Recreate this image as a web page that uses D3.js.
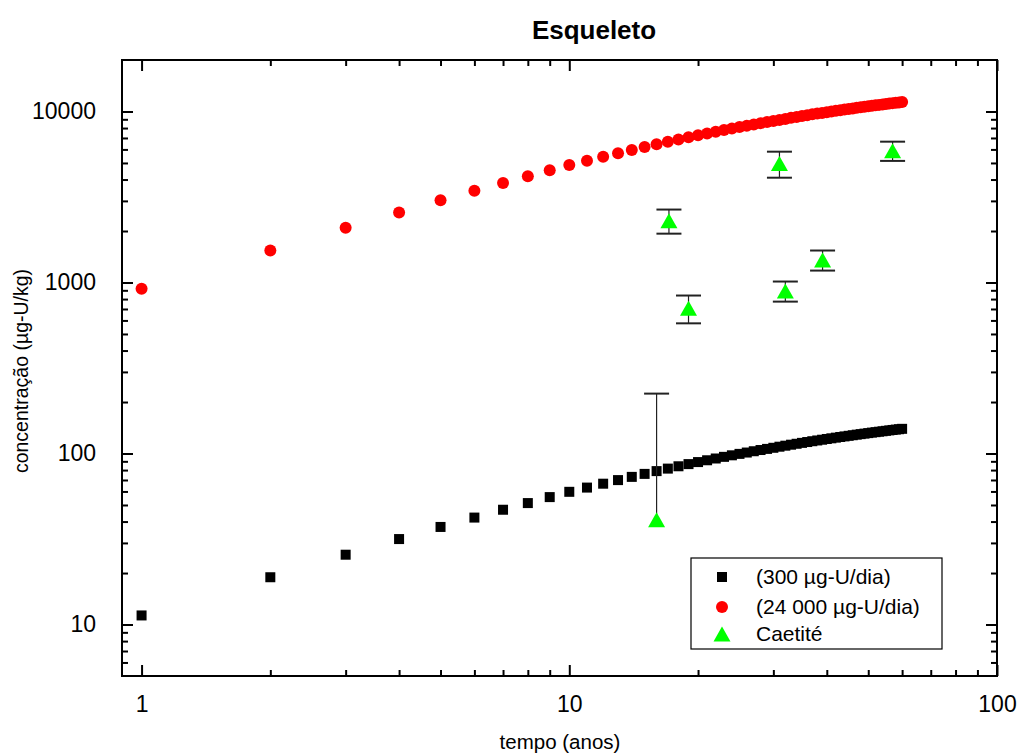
<!DOCTYPE html>
<html>
<head>
<meta charset="utf-8">
<script src="https://cdn.jsdelivr.net/npm/d3@7"></script>
<style>
  html, body { margin: 0; padding: 0; background: #fff; }
  svg { display: block; font-family: "Liberation Sans", Arial, sans-serif; }
</style>
</head>
<body>
<svg id="chart" width="1019" height="754"></svg>
<script>
// ---------------- data ----------------
const years = d3.range(1, 61);
const dose300 = [11.3, 18.9, 25.6, 31.6, 37.2, 42.2, 46.9, 51.3, 55.6, 59.7,
  63.2, 66.6, 69.9, 73.0, 76.0, 78.9, 81.6, 84.2, 86.7, 89.1,
  91.3, 93.5, 95.6, 97.6, 99.5, 101.3, 103.1, 104.8, 106.4, 108.0,
  109.6, 111.1, 112.6, 114.0, 115.4, 116.7, 118.0, 119.2, 120.4, 121.6,
  122.7, 123.8, 124.9, 125.9, 126.9, 127.9, 128.9, 129.8, 130.7, 131.6,
  132.5, 133.3, 134.1, 134.9, 135.7, 136.5, 137.3, 138.0, 138.7, 139.4];
const dose24000 = [920, 1540, 2090, 2570, 3030, 3440, 3820, 4180, 4530, 4870,
  5150, 5430, 5700, 5950, 6190, 6430, 6650, 6860, 7070, 7260,
  7440, 7620, 7790, 7950, 8110, 8260, 8400, 8540, 8670, 8800,
  8930, 9050, 9180, 9290, 9400, 9510, 9620, 9720, 9810, 9910,
  10000, 10090, 10180, 10260, 10340, 10420, 10500, 10580, 10650, 10720,
  10800, 10860, 10930, 10990, 11060, 11120, 11190, 11250, 11300, 11360];
const caetiteX = [16.0, 17.1, 19.0, 31.0, 32.0, 39.1, 57.0];
const caetiteY = [41, 2300, 708, 4960, 893, 1356, 5900];
const caetiteErr = [183, 370, 131, 860, 120, 182, 760];

const xMajor = [1, 10, 100];
const xMinor = [2,3,4,5,6,7,8,9,20,30,40,50,60,70,80,90];
const yMajor = [10, 100, 1000, 10000];
const yMinor = [6,7,8,9,20,30,40,50,60,70,80,90,200,300,400,500,600,700,800,900,2000,3000,4000,5000,6000,7000,8000,9000];
const legendLabels = ["(300 µg-U/dia)", "(24 000 µg-U/dia)", "Caetité"];

const titleText = "Esqueleto";
const xTitle = "tempo (anos)";
const yTitle = "concentração (µg-U/kg)";

// ---------------- layout ----------------
const L = 122, R = 997, T = 60, B = 676;
const svg = d3.select("#chart");
const x = d3.scaleLog().domain([0.9, 100]).range([L, R]);
const y = d3.scaleLog().domain([5, 20000]).range([B, T]);

const fontTick = 23;

function styleAxis(g) {
  g.select(".domain").remove();
  g.selectAll(".tick line").attr("stroke", "#000").attr("stroke-width", 2);
}

// bottom
svg.append("g").attr("transform", `translate(0,${B})`)
  .call(d3.axisBottom(x).tickValues(xMajor).tickSizeInner(-11).tickSizeOuter(0).tickPadding(20).tickFormat(d3.format("d")))
  .call(styleAxis)
  .call(g => g.selectAll("text").attr("font-size", fontTick).attr("fill", "#000").attr("font-family", "Liberation Sans, Arial, sans-serif"));
svg.append("g").attr("transform", `translate(0,${B})`)
  .call(d3.axisBottom(x).tickValues(xMinor).tickSizeInner(-6).tickSizeOuter(0).tickFormat(""))
  .call(styleAxis);
// top
svg.append("g").attr("transform", `translate(0,${T})`)
  .call(d3.axisTop(x).tickValues(xMajor).tickSizeInner(-11).tickSizeOuter(0).tickFormat(""))
  .call(styleAxis);
svg.append("g").attr("transform", `translate(0,${T})`)
  .call(d3.axisTop(x).tickValues(xMinor).tickSizeInner(-6).tickSizeOuter(0).tickFormat(""))
  .call(styleAxis);
// left
svg.append("g").attr("transform", `translate(${L},0)`)
  .call(d3.axisLeft(y).tickValues(yMajor).tickSizeInner(-11).tickSizeOuter(0).tickPadding(26).tickFormat(d3.format("d")))
  .call(styleAxis)
  .call(g => g.selectAll("text").attr("font-size", fontTick).attr("fill", "#000").attr("font-family", "Liberation Sans, Arial, sans-serif"));
svg.append("g").attr("transform", `translate(${L},0)`)
  .call(d3.axisLeft(y).tickValues(yMinor).tickSizeInner(-6).tickSizeOuter(0).tickFormat(""))
  .call(styleAxis);
// right
svg.append("g").attr("transform", `translate(${R},0)`)
  .call(d3.axisRight(y).tickValues(yMajor).tickSizeInner(-11).tickSizeOuter(0).tickFormat(""))
  .call(styleAxis);
svg.append("g").attr("transform", `translate(${R},0)`)
  .call(d3.axisRight(y).tickValues(yMinor).tickSizeInner(-6).tickSizeOuter(0).tickFormat(""))
  .call(styleAxis);

// frame
svg.append("rect").attr("x", L).attr("y", T).attr("width", R - L).attr("height", B - T)
  .attr("fill", "none").attr("stroke", "#000").attr("stroke-width", 2);

// ---------------- series ----------------
const sq = 10;
svg.append("g").selectAll("rect").data(years)
  .join("rect")
  .attr("x", (d) => x(d) - sq / 2)
  .attr("y", (d, i) => y(dose300[i]) - sq / 2)
  .attr("width", sq).attr("height", sq).attr("fill", "#000");

svg.append("g").selectAll("circle").data(years)
  .join("circle")
  .attr("cx", (d) => x(d))
  .attr("cy", (d, i) => y(dose24000[i]))
  .attr("r", 6).attr("fill", "#ff0000");

// error bars
const cap = 12.5;
const eb = svg.append("g").attr("stroke", "#222");
caetiteX.forEach((cx, i) => {
  const hi = caetiteY[i] + caetiteErr[i];
  const lo = caetiteY[i] - caetiteErr[i];
  const px = x(cx);
  const yHi = y(hi);
  const yLo = lo > 0 ? y(lo) : y(caetiteY[i]);
  eb.append("line").attr("x1", px).attr("x2", px).attr("y1", yHi).attr("y2", yLo).attr("stroke-width", 1.2);
  eb.append("line").attr("x1", px - cap).attr("x2", px + cap).attr("y1", yHi).attr("y2", yHi).attr("stroke-width", 2);
  if (lo > 0) {
    eb.append("line").attr("x1", px - cap).attr("x2", px + cap).attr("y1", yLo).attr("y2", yLo).attr("stroke-width", 2);
  }
});

function triPath(cx, cy, w, h) {
  return `M${cx},${cy - h / 2}L${cx + w / 2},${cy + h / 2}L${cx - w / 2},${cy + h / 2}Z`;
}
svg.append("g").selectAll("path").data(caetiteX)
  .join("path")
  .attr("d", (d, i) => triPath(x(d), y(caetiteY[i]), 17, 15))
  .attr("fill", "#00ff00");

// ---------------- legend ----------------
const lg = svg.append("g");
lg.append("rect").attr("x", 691).attr("y", 558).attr("width", 251).attr("height", 91)
  .attr("fill", "#fff").attr("stroke", "#000").attr("stroke-width", 1.2);
const rowY = [577, 607, 634];
lg.append("rect").attr("x", 722 - sq / 2).attr("y", rowY[0] - sq / 2).attr("width", sq).attr("height", sq).attr("fill", "#000");
lg.append("circle").attr("cx", 722).attr("cy", rowY[1]).attr("r", 6).attr("fill", "#ff0000");
lg.append("path").attr("d", triPath(722, rowY[2], 17, 15)).attr("fill", "#00ff00");
legendLabels.forEach((t, i) => {
  lg.append("text").attr("x", 756).attr("y", rowY[i]).attr("dy", "0.35em")
    .attr("font-size", 21).attr("fill", "#000").text(t);
});

// ---------------- titles ----------------
svg.append("text").attr("x", 594).attr("y", 30).attr("dy", "0.35em")
  .attr("text-anchor", "middle").attr("font-size", 26).attr("font-weight", "bold").text(titleText);
svg.append("text").attr("x", 560).attr("y", 742).attr("dy", "0.35em")
  .attr("text-anchor", "middle").attr("font-size", 20.5).text(xTitle);
svg.append("text").attr("transform", "translate(21,371) rotate(-90)").attr("dy", "0.35em")
  .attr("text-anchor", "middle").attr("font-size", 19.5).text(yTitle);
</script>
</body>
</html>
